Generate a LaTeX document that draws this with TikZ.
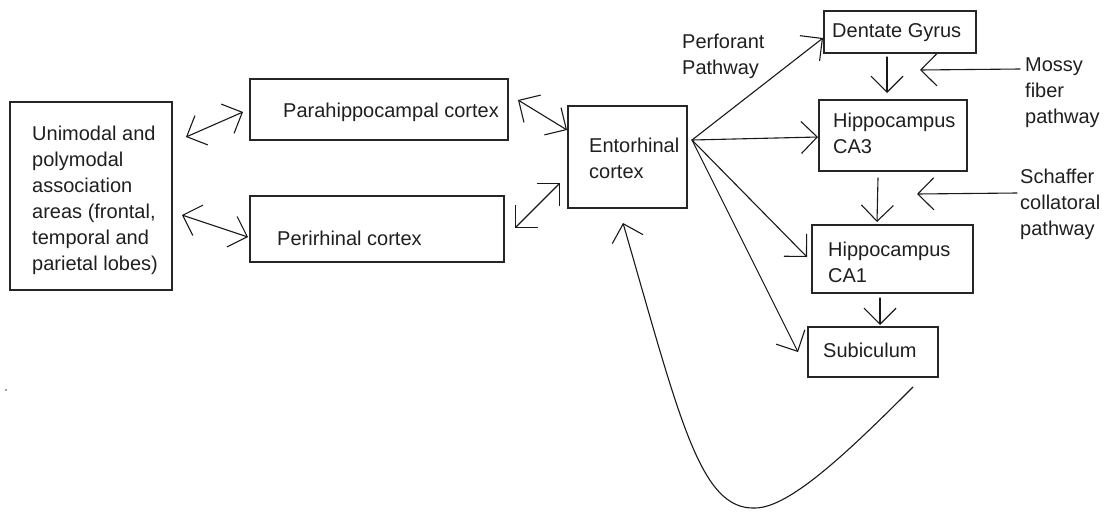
\documentclass[tikz,border=0pt]{standalone}
\usepackage{fontspec}
\setmainfont{Liberation Sans}
\usetikzlibrary{arrows.meta,calc}
\begin{document}
\begin{tikzpicture}[x=1pt,y=-1pt,
  box/.style={draw=black!85, line width=1.6pt, rectangle, inner sep=0pt, outer sep=0pt, anchor=north west},
  % multi-line texts sit on the baseline of their last line
  txt/.style={inner sep=0pt, anchor=base west, align=left, text=black!88, font=\fontsize{20}{26}\selectfont},
  link/.style={draw=black!90, line width=1.1pt, line cap=round, line join=round},
  fwd/.style={link, -{Straight Barb[length=16pt,width=32pt]}},
  both/.style={link, {Straight Barb[length=16pt,width=32pt]}-{Straight Barb[length=16pt,width=32pt]}},
]
\useasboundingbox (0,0) rectangle (1114,512);

% boxes
\node[box, minimum width=162pt, minimum height=188pt] (uni)  at (10,102) {};
\node[box, minimum width=258pt, minimum height=61pt]  (para) at (250,79) {};
\node[box, minimum width=254pt, minimum height=66pt]  (peri) at (250,196) {};
\node[box, minimum width=119pt, minimum height=102pt] (ento) at (568,106) {};
\node[box, minimum width=152pt, minimum height=42pt]  (dg)   at (824,11) {};
\node[box, minimum width=148pt, minimum height=71pt]  (ca3)  at (819,100) {};
\node[box, minimum width=161pt, minimum height=68pt]  (ca1)  at (812,225) {};
\node[box, minimum width=130pt, minimum height=50pt]  (sub)  at (808,327) {};

% box texts
\node[txt] (uni-t)  at (32,270)  {Unimodal and\\polymodal\\association\\areas (frontal,\\temporal and\\parietal lobes)};
\node[txt] (para-t) at (283,117) {Parahippocampal cortex};
\node[txt] (peri-t) at (277,245) {Perirhinal cortex};
\node[txt] (ento-t) at (589,178) {Entorhinal\\cortex};
\node[txt] (dg-t)   at (832,37)  {Dentate Gyrus};
\node[txt] (ca3-t)  at (833,153) {Hippocampus\\CA3};
\node[txt] (ca1-t)  at (828,282) {Hippocampus\\CA1};
\node[txt] (sub-t)  at (823,357) {Subiculum};

% pathway labels
\node[txt] (perf)     at (682,74)   {Perforant\\Pathway};
\node[txt] (mossy)    at (1025,123) {Mossy\\fiber\\pathway};
\node[txt] (schaffer) at (1020,235) {Schaffer\\collatoral\\pathway};

% cortical links
\draw[both] ($(uni.north east)+(14,35)$) -- ($(para.west)+(-7,2.5)$);
\draw[both] ($(uni.south east)+(10,-75)$) -- ($(peri.west)+(-2,8)$);
\draw[both] ($(para.east)+(10,-9.5)$) -- ($(ento.north west)+(-1,24)$);
\draw[both] ($(peri.east)+(11,-1)$) -- ($(ento.south west)+(-8,-25)$);

% perforant fan out of the entorhinal cortex
\coordinate (fan) at ($(ento.east)+(5,-17)$);
\draw[fwd] (fan) -- ($(dg.west)+(-1,6)$);
\draw[fwd] (fan) -- ($(ca3.west)+(-1,1.5)$);
\draw[fwd] (fan) -- ($(ca1.west)+(-5,-2)$);
\draw[fwd] (fan) -- ($(sub.west)+(-10,0)$);

% trisynaptic chain
\draw[fwd] ($(dg.south)+(-13,4)$) -- ($(ca3.north)+(-6,-7)$);
\draw[fwd] ($(ca3.south)+(-15,7)$) -- ($(ca1.north)+(-15.5,-3)$);
\draw[fwd] ($(ca1.south)+(-12.5,5)$) -- ($(sub.north)+(7,-2)$);

% pathway pointers
\coordinate (mossy-tip) at (920,70);
\coordinate (schaffer-tip) at (917,194);
\draw[fwd] ($(mossy.base west)+(-5,-54)$) -- (mossy-tip);
\draw[fwd] ($(schaffer.base west)+(-3,-42)$) -- (schaffer-tip);

% return loop from the subiculum
\draw[fwd] ($(sub.south east)+(-25,10)$) .. controls (850,450) and (790,508) .. (755,508)
  .. controls (700,510) and (680,420) .. ($(ento.south)+(-4.5,15)$);

% stray speck
\fill[black!50] (6,390) circle (1.1);
\end{tikzpicture}
\end{document}
